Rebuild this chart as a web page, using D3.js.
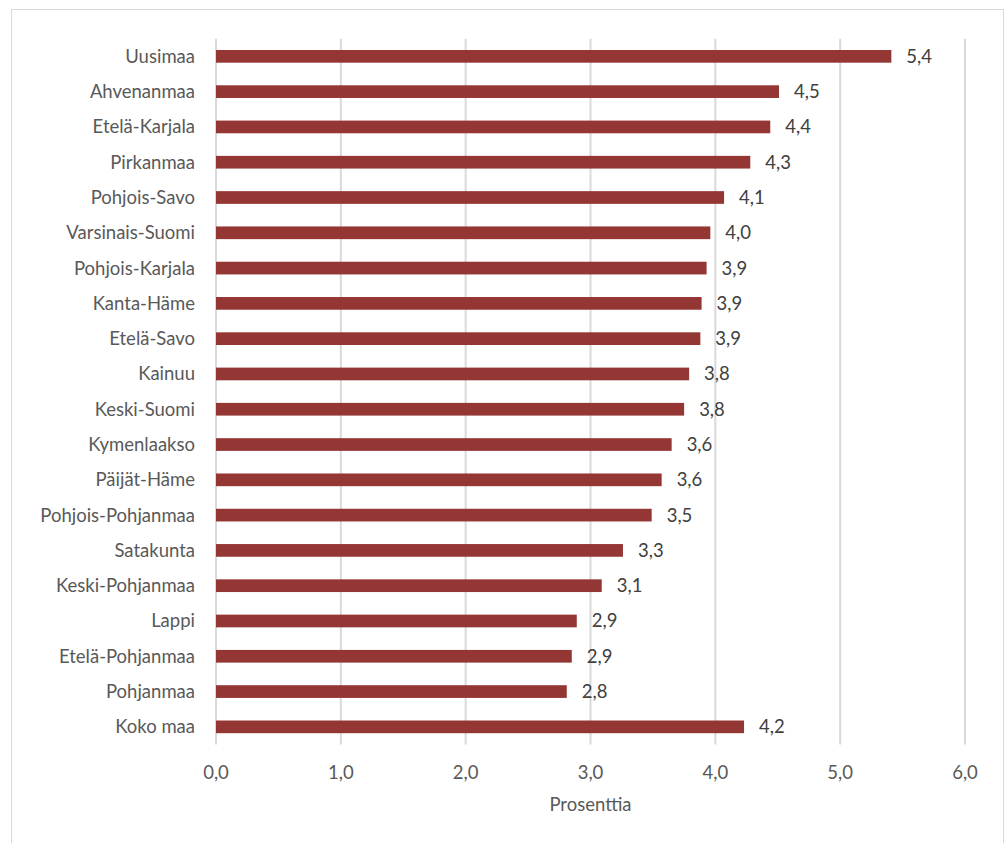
<!DOCTYPE html>
<html><head><meta charset="utf-8">
<script src="https://cdn.jsdelivr.net/npm/d3@7"></script>
<style>body{margin:0;background:#fff;} text{font-family:"Lato","Open Sans",sans-serif;}</style>
</head><body>
<svg id="chart" width="1006" height="843"></svg>
<script>
const categories = ["Uusimaa","Ahvenanmaa","Etelä-Karjala","Pirkanmaa","Pohjois-Savo","Varsinais-Suomi","Pohjois-Karjala","Kanta-Häme","Etelä-Savo","Kainuu","Keski-Suomi","Kymenlaakso","Päijät-Häme","Pohjois-Pohjanmaa","Satakunta","Keski-Pohjanmaa","Lappi","Etelä-Pohjanmaa","Pohjanmaa","Koko maa"];
const values = [5.41,4.51,4.44,4.28,4.07,3.96,3.93,3.89,3.88,3.79,3.75,3.65,3.57,3.49,3.26,3.09,2.89,2.85,2.81,4.23];
const xTicks = [0,1,2,3,4,5,6];
const axisTitle = "Prosenttia";

(function(){
const svg = d3.select("#chart");
const fmt = v => v.toFixed(1).replace(".", ",");
const fs = 18.5;

svg.append("rect").attr("x",11.5).attr("y",9.5).attr("width",992).attr("height",840)
  .attr("fill","#fff").attr("stroke","#d9d9d9").attr("stroke-width",1);

const pLeft = 216, pRight = 965, pTop = 38.7, pBottom = 744.5;
const x = d3.scaleLinear().domain([0,6]).range([pLeft,pRight]);
const y = d3.scaleBand().domain(categories).range([pTop,pBottom]).paddingInner(0.64).paddingOuter(0.32);

svg.append("g").selectAll("line").data(xTicks).join("line")
  .attr("x1",d=>x(d)).attr("x2",d=>x(d)).attr("y1",pTop).attr("y2",pBottom)
  .attr("stroke","#d9d9d9").attr("stroke-width",2);

svg.append("g").selectAll("rect").data(categories).join("rect")
  .attr("x",x(0)).attr("y",(d)=>y(d) + (y.bandwidth()-12.7)/2)
  .attr("width",(d,i)=>x(values[i])-x(0)).attr("height",12.7)
  .attr("fill","#943634");

svg.append("g").selectAll("text").data(categories).join("text")
  .attr("x",195).attr("y",d=>y(d)+y.bandwidth()/2).attr("dy","0.35em")
  .attr("text-anchor","end").attr("font-size",fs).attr("fill","#595959").text(d=>d);

svg.append("g").selectAll("text").data(categories).join("text")
  .attr("x",(d,i)=>x(values[i])+15).attr("y",d=>y(d)+y.bandwidth()/2).attr("dy","0.35em")
  .attr("font-size",fs).attr("fill","#404040").text((d,i)=>fmt(values[i]));

svg.append("g").selectAll("text").data(xTicks).join("text")
  .attr("x",d=>x(d)).attr("y",773).attr("dy","0.35em")
  .attr("text-anchor","middle").attr("font-size",fs).attr("fill","#595959").text(d=>fmt(d));

svg.append("text").attr("x",(pLeft+pRight)/2).attr("y",805).attr("dy","0.35em")
  .attr("text-anchor","middle").attr("font-size",fs).attr("fill","#595959").text(axisTitle);
})();
</script>
</body></html>
